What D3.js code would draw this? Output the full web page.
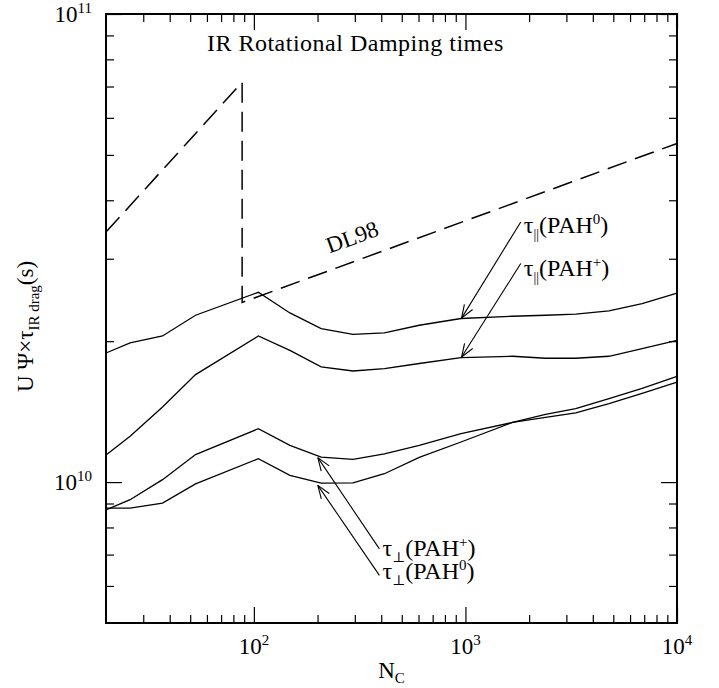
<!DOCTYPE html>
<html>
<head>
<meta charset="utf-8">
<script src="https://cdn.jsdelivr.net/npm/d3@7"></script>
<style>
  body { margin: 0; background: #fff; }
  svg text { font-family: "Liberation Serif", "DejaVu Serif", serif; fill: #000; }
</style>
</head>
<body>
<div id="chart"></div>
<script>
// ── Data ─────────────────────────────────────────────────────────────────────
const nC = [20, 26, 37, 53, 105, 148, 208, 294, 414, 605, 953, 1670, 2390, 3320, 4770, 6840, 10000];

const tauParNeutral = [1.887e10, 1.983e10, 2.052e10, 2.272e10, 2.544e10, 2.298e10, 2.128e10, 2.069e10,
  2.083e10, 2.163e10, 2.236e10, 2.261e10, 2.272e10, 2.284e10, 2.321e10, 2.407e10, 2.532e10];
const tauParIon = [1.142e10, 1.253e10, 1.447e10, 1.697e10, 2.052e10, 1.912e10, 1.762e10, 1.727e10,
  1.748e10, 1.792e10, 1.845e10, 1.857e10, 1.839e10, 1.839e10, 1.857e10, 1.928e10, 2.009e10];
const tauPerpIon = [8.72e9, 9.17e9, 1.012e10, 1.145e10, 1.30e10, 1.198e10, 1.131e10, 1.118e10,
  1.149e10, 1.198e10, 1.269e10, 1.341e10, 1.375e10, 1.405e10, 1.471e10, 1.547e10, 1.636e10];
const tauPerpNeutral = [8.80e9, 8.80e9, 9.02e9, 9.91e9, 1.122e10, 1.034e10, 9.95e9, 9.96e9,
  1.042e10, 1.129e10, 1.218e10, 1.341e10, 1.396e10, 1.436e10, 1.508e10, 1.586e10, 1.683e10];

// DL98 estimate (dashed)
const dl98N = [20, 88, 88, 10000];
const dl98Tau = [3.42e10, 7.15e10, 2.42e10, 5.29e10];

// arrows: tail (label end) -> tip (on curve)
const arrows = [
  { from: [1826, 3.596e10], to: [959, 2.24e10] },
  { from: [1826, 2.93e10], to: [959, 1.85e10] },
  { from: [392, 7.20e9], to: [200.6, 1.128e10] },
  { from: [392, 6.32e9], to: [200.6, 9.84e9] },
];

const labels = [
  { at: [1826, 3.596e10], sub: '||', sup: '0', dy: 11 },
  { at: [1826, 2.93e10], sub: '||', sup: '+', dy: 12 },
  { at: [392, 7.20e9], sub: '\u22A5', sup: '+', dy: 7 },
  { at: [392, 6.32e9], sub: '\u22A5', sup: '0', dy: 4 },
];

const xMajor = [100, 1000, 10000];
const xMinor = [30, 40, 50, 60, 70, 80, 90, 200, 300, 400, 500, 600, 700, 800, 900,
  2000, 3000, 4000, 5000, 6000, 7000, 8000, 9000];
const yMajor = [1e10, 1e11];
const yMinor = [6e9, 7e9, 8e9, 9e9, 2e10, 3e10, 4e10, 5e10, 6e10, 7e10, 8e10, 9e10];
const xTickLabels = [['10', '2'], ['10', '3'], ['10', '4']];
const yTickLabels = [['10', '10'], ['10', '11']];

// ── Layout ───────────────────────────────────────────────────────────────────
const width = 719;
const height = 688;
const margin = { top: 14, right: 42, bottom: 65, left: 106 };
const plot = {
  left: margin.left,
  right: width - margin.right,
  top: margin.top,
  bottom: height - margin.bottom,
};

const svg = d3.select('#chart').append('svg')
  .attr('width', width)
  .attr('height', height);

const x = d3.scaleLog().domain([20, 1e4]).range([plot.left, plot.right]);
const y = d3.scaleLog().domain([5e9, 1e11]).range([plot.bottom, plot.top]);

// ── Axes (ticks inward on all four sides) ────────────────────────────────────
function ticks(axisFn, scale, values, size, transform) {
  svg.append('g')
    .attr('transform', transform)
    .call(axisFn(scale).tickValues(values).tickSize(size).tickFormat(''))
    .call((g) => g.select('.domain').remove())
    .call((g) => g.selectAll('line').attr('stroke', '#000').attr('stroke-width', 1.2));
}

ticks(d3.axisBottom, x, xMajor, -16, `translate(0,${plot.bottom})`);
ticks(d3.axisBottom, x, xMinor, -8, `translate(0,${plot.bottom})`);
ticks(d3.axisTop, x, xMajor, -16, `translate(0,${plot.top})`);
ticks(d3.axisTop, x, xMinor, -8, `translate(0,${plot.top})`);
ticks(d3.axisLeft, y, yMajor, -16, `translate(${plot.left},0)`);
ticks(d3.axisLeft, y, yMinor, -8, `translate(${plot.left},0)`);
ticks(d3.axisRight, y, yMajor, -16, `translate(${plot.right},0)`);
ticks(d3.axisRight, y, yMinor, -8, `translate(${plot.right},0)`);

svg.append('rect')
  .attr('x', plot.left)
  .attr('y', plot.top)
  .attr('width', plot.right - plot.left)
  .attr('height', plot.bottom - plot.top)
  .attr('fill', 'none')
  .attr('stroke', '#000')
  .attr('stroke-width', 2);

// tick labels with superscript exponents
svg.append('g').selectAll('text')
  .data(xMajor)
  .join('text')
  .attr('x', (d) => x(d))
  .attr('y', plot.bottom + 31)
  .attr('text-anchor', 'middle')
  .attr('font-size', 23)
  .each(function (d, i) {
    const t = d3.select(this);
    t.append('tspan').text(xTickLabels[i][0]);
    t.append('tspan').attr('font-size', 15).attr('dy', -9).text(xTickLabels[i][1]);
  });

svg.append('g').selectAll('text')
  .data(yMajor)
  .join('text')
  .attr('x', plot.left - 14)
  .attr('y', (d) => y(d) + 8)
  .attr('text-anchor', 'end')
  .attr('font-size', 23)
  .each(function (d, i) {
    const t = d3.select(this);
    t.append('tspan').text(yTickLabels[i][0]);
    t.append('tspan').attr('font-size', 15).attr('dy', -9).text(yTickLabels[i][1]);
  });

// axis titles
const xTitle = svg.append('text')
  .attr('x', (plot.left + plot.right) / 2)
  .attr('y', height - 10)
  .attr('text-anchor', 'middle')
  .attr('font-size', 23);
xTitle.append('tspan').text('N');
xTitle.append('tspan').attr('font-size', 15).attr('dy', 5).text('C');

const yTitle = svg.append('text')
  .attr('transform', `translate(33,${(plot.top + plot.bottom) / 2 + 8}) rotate(-90)`)
  .attr('text-anchor', 'middle')
  .attr('font-size', 23);
yTitle.append('tspan').text('U \u03A8\u00D7\u03C4');
yTitle.append('tspan').attr('font-size', 15).attr('dy', 6).text('IR drag');
yTitle.append('tspan').attr('dy', -6).text('(s)');

svg.append('text')
  .attr('x', x(60))
  .attr('y', plot.top + 37)
  .attr('font-size', 24)
  .attr('letter-spacing', 0.5)
  .text('IR Rotational Damping times');

// ── Curves ───────────────────────────────────────────────────────────────────
const line = d3.line().x((d) => x(d[0])).y((d) => y(d[1]));

const series = [tauParNeutral, tauParIon, tauPerpIon, tauPerpNeutral];
svg.append('g').selectAll('path')
  .data(series)
  .join('path')
  .attr('d', (vals) => line(nC.map((n, i) => [n, vals[i]])))
  .attr('fill', 'none')
  .attr('stroke', '#000')
  .attr('stroke-width', 1.3);

svg.append('path')
  .attr('d', line(dl98N.map((n, i) => [n, dl98Tau[i]])))
  .attr('fill', 'none')
  .attr('stroke', '#000')
  .attr('stroke-width', 1.5)
  .attr('stroke-dasharray', '20,9');

// DL98 label, rotated along the dashed segment
const dlA = [x(dl98N[2]), y(dl98Tau[2])];
const dlB = [x(dl98N[3]), y(dl98Tau[3])];
const dlAngle = Math.atan2(dlB[1] - dlA[1], dlB[0] - dlA[0]) * 180 / Math.PI;
svg.append('text')
  .attr('transform', `translate(${x(300)},${y(3.22e10)}) rotate(${dlAngle})`)
  .attr('font-size', 23)
  .attr('text-anchor', 'middle')
  .text('DL98');

// ── Annotations ──────────────────────────────────────────────────────────────
const ann = svg.append('g').attr('stroke', '#000').attr('stroke-width', 1.1);
arrows.forEach((a) => {
  const x0 = x(a.from[0]), y0 = y(a.from[1]);
  const x1 = x(a.to[0]), y1 = y(a.to[1]);
  ann.append('line').attr('x1', x0).attr('y1', y0).attr('x2', x1).attr('y2', y1);
  const ang = Math.atan2(y0 - y1, x0 - x1);
  [-0.35, 0.35].forEach((da) => {
    ann.append('line')
      .attr('x1', x1).attr('y1', y1)
      .attr('x2', x1 + 14 * Math.cos(ang + da))
      .attr('y2', y1 + 14 * Math.sin(ang + da));
  });
});

labels.forEach((l) => {
  const t = svg.append('text')
    .attr('x', x(l.at[0]) + 3)
    .attr('y', y(l.at[1]) + l.dy)
    .attr('font-size', 24);
  t.append('tspan').text('\u03C4');
  t.append('tspan').attr('font-size', 14).attr('dy', 6).text(l.sub);
  t.append('tspan').attr('dy', -6).text('(PAH');
  t.append('tspan').attr('font-size', 15).attr('dy', -9).text(l.sup);
  t.append('tspan').attr('dy', 9).text(')');
});
</script>
</body>
</html>
